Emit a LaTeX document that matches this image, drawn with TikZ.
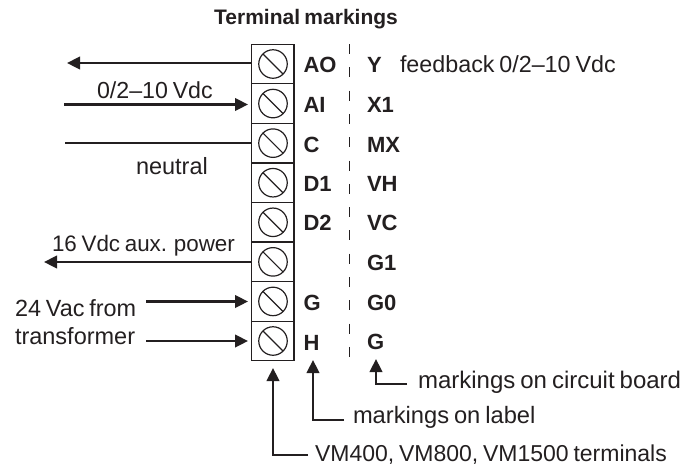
\documentclass[tikz,border=0pt]{standalone}
\usepackage{fontspec}
\setmainfont[WordSpace=0.75]{Liberation Sans}
\usetikzlibrary{arrows.meta,calc}
\definecolor{ink}{HTML}{231F20}
\tikzset{
 x=1pt,y=-1pt,
 every node/.style={inner sep=0pt,outer sep=0pt,text=ink},
 term/.style={draw=ink,line width=1.2pt,minimum width=42.5pt,minimum height=39.57pt},
 screw/.style={circle,draw=ink,line width=1.2pt,minimum size=28.5pt},
 wire/.style={draw=ink,line width=2.5pt},
 arrowed/.style={wire,-{Triangle[length=13pt,width=12.5pt]}},
 txt/.style={font=\fontsize{#1}{26pt}\selectfont,anchor=base west},
 lab/.style={font=\fontsize{22pt}{24pt}\selectfont\bfseries,anchor=base west},
}
\begin{document}
\begin{tikzpicture}
\useasboundingbox (0,0) rectangle (692,467);
\foreach \n/\y in {1/64,2/103.57,3/143.14,4/182.71,5/222.29,6/261.86,7/301.43,8/341}{
  \node[term] (t\n) at (272.75,\y) {};
  \node[screw] (s\n) at (273,\y) {};
  \draw[ink,line width=1.2pt] (s\n.north west) -- (s\n.south east);
}
\node[lab,font=\fontsize{21pt}{24pt}\selectfont\bfseries,anchor=base] (title) at (306,24) {Terminal markings};
% label column
\node[lab] (aAO) at (303.5,72) {AO};
\node[lab] (aAI) at (303.5,112) {AI};
\node[lab] (aC) at (303.5,152) {C};
\node[lab] (aD1) at (303.5,191.5) {D1};
\node[lab] (aD2) at (303.5,230.5) {D2};
\node[lab] (aG) at (303.5,310) {G};
\node[lab] (aH) at (303.5,350) {H};
% board column
\node[lab] (bY) at (367,72) {Y};
\node[lab] (bX1) at (367,112) {X1};
\node[lab] (bMX) at (367,152) {MX};
\node[lab] (bVH) at (367,191.5) {VH};
\node[lab] (bVC) at (367,230.5) {VC};
\node[lab] (bG1) at (367,270) {G1};
\node[lab] (bG0) at (367,310) {G0};
\node[lab] (bG) at (367,349) {G};
% dashed divider
\coordinate (dtop) at (349,44);
\coordinate (dbot) at (349,361);
\draw[ink,line width=1pt,dash pattern=on 10pt off 13.3pt] (dtop) -- (dbot);
% text
\node[txt=23.3pt] (fb) at (400,72) {feedback 0/2--10 Vdc};
\node[txt=23.2pt] (vdc) at (97,98) {0/2--10 Vdc};
\node[txt=23.5pt] (neu) at (136,174) {neutral};
\node[txt=22.4pt] (aux) at (52,251) {16 Vdc aux. power};
\node[txt=23.4pt] (v24) at (15,316) {24 Vac from};
\node[txt=23.5pt] (trf) at (15,344) {transformer};
\node[txt=24pt] (mcb) at (418,388) {markings on circuit board};
\node[txt=23.7pt] (mlb) at (353,423) {markings on label};
\node[txt=23pt] (vmt) at (315,461) {VM400, VM800, VM1500 terminals};
% connectors
\coordinate (fAO) at (67,63);
\coordinate (fAI) at (64,104.5);
\coordinate (fC) at (65,143);
\coordinate (fAux) at (44,262);
\coordinate (fG) at (146,301.5);
\coordinate (fH) at (146,341);
\draw[arrowed] (t1.west |- fAO) -- (fAO);
\draw[arrowed] (fAI) -- (248,104.5);
\draw[wire] (fC) -- (t3.west |- fC);
\draw[arrowed] (t6.west |- fAux) -- (fAux);
\draw[arrowed] (fG) -- (248,301.5);
\draw[arrowed] (fH) -- (248,341);
\coordinate (e1) at (308,455);
\coordinate (e2) at (344,420);
\coordinate (e3) at (407,384);
\draw[arrowed] (e1) -| (273,368);
\draw[arrowed] (e2) -| (313,360);
\draw[arrowed] (e3) -| (376,359);
\end{tikzpicture}
\end{document}
